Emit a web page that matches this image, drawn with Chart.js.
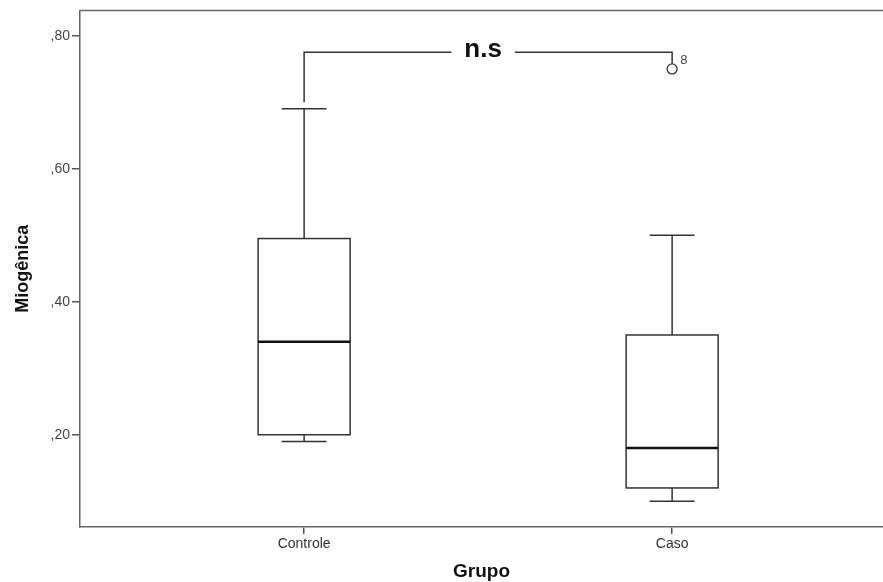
<!DOCTYPE html>
<html>
<head>
<meta charset="utf-8">
<script src="https://cdn.jsdelivr.net/npm/chart.js@4"></script>
<style>
    html, body { margin: 0; padding: 0; background: #fff; }
    #wrap { width: 883px; height: 582px; }
</style>
</head>
<body>
<div id="wrap"><canvas id="boxChart"></canvas></div>
<script>
const categories = ['Controle', 'Caso'];
const whiskerMin = [0.19, 0.10];
const q1 = [0.20, 0.12];
const median = [0.34, 0.18];
const q3 = [0.495, 0.35];
const whiskerMax = [0.69, 0.50];
const outlierGroup = [2];
const outlierValue = [0.75];
const outlierLabel = ['8'];
const yTicks = [0.2, 0.4, 0.6, 0.8];
const bracketText = 'n.s';
const bracketY = 0.775;
const bracketEnds = [0.70, 0.758];

const FONT = "'Liberation Sans', Arial, sans-serif";
const LINE = '#333';

// boxes, whiskers, medians, the top frame line and the n.s bracket
const boxPlot = {
    id: 'boxPlot',
    beforeDatasetsDraw(chart) {
        const ctx = chart.ctx;
        const x = chart.scales.x;
        const y = chart.scales.y;
        const area = chart.chartArea;
        const capHalf = 0.061;
        const boxHalf = 0.125;

        ctx.save();
        ctx.lineCap = 'butt';
        categories.forEach((c, i) => {
            const cx = x.getPixelForValue(i + 1);
            const left = x.getPixelForValue(i + 1 - boxHalf);
            const right = x.getPixelForValue(i + 1 + boxHalf);
            const top = y.getPixelForValue(q3[i]);
            const bottom = y.getPixelForValue(q1[i]);

            ctx.strokeStyle = LINE;
            ctx.lineWidth = 1.5;
            ctx.beginPath();
            ctx.moveTo(cx, y.getPixelForValue(whiskerMax[i]));
            ctx.lineTo(cx, top);
            ctx.moveTo(cx, bottom);
            ctx.lineTo(cx, y.getPixelForValue(whiskerMin[i]));
            [whiskerMax[i], whiskerMin[i]].forEach(v => {
                ctx.moveTo(x.getPixelForValue(i + 1 - capHalf), y.getPixelForValue(v));
                ctx.lineTo(x.getPixelForValue(i + 1 + capHalf), y.getPixelForValue(v));
            });
            ctx.stroke();

            ctx.fillStyle = '#fff';
            ctx.fillRect(left, top, right - left, bottom - top);
            ctx.strokeRect(left, top, right - left, bottom - top);

            ctx.beginPath();
            ctx.lineWidth = 2.5;
            ctx.strokeStyle = '#111';
            ctx.moveTo(left, y.getPixelForValue(median[i]));
            ctx.lineTo(right, y.getPixelForValue(median[i]));
            ctx.stroke();
        });

        // top frame
        ctx.lineWidth = 1.5;
        ctx.strokeStyle = '#666';
        ctx.beginPath();
        ctx.moveTo(area.left, area.top);
        ctx.lineTo(area.right, area.top);
        ctx.stroke();

        // bracket, label sits a little left of the middle
        const lx = x.getPixelForValue(1);
        const rx = x.getPixelForValue(2);
        const by = y.getPixelForValue(bracketY);
        ctx.font = 'bold 26px ' + FONT;
        const mid = (lx + rx) / 2 - 5;
        const tw = ctx.measureText(bracketText).width;
        ctx.strokeStyle = LINE;
        ctx.beginPath();
        ctx.moveTo(lx, y.getPixelForValue(bracketEnds[0]));
        ctx.lineTo(lx, by);
        ctx.lineTo(mid - tw / 2 - 13, by);
        ctx.moveTo(mid + tw / 2 + 13, by);
        ctx.lineTo(rx, by);
        ctx.lineTo(rx, y.getPixelForValue(bracketEnds[1]));
        ctx.stroke();
        ctx.fillStyle = '#111';
        ctx.textAlign = 'center';
        ctx.textBaseline = 'middle';
        ctx.fillText(bracketText, mid, by - 2);

        // outlier case numbers
        ctx.font = '13px ' + FONT;
        ctx.fillStyle = '#444';
        ctx.textAlign = 'left';
        outlierGroup.forEach((g, i) => {
            ctx.fillText(outlierLabel[i], x.getPixelForValue(g) + 8, y.getPixelForValue(outlierValue[i]) - 9);
        });
        ctx.restore();
    }
};

const ctx = document.getElementById('boxChart').getContext('2d');
new Chart(ctx, {
    type: 'scatter',
    data: {
        datasets: [{
            label: 'Outliers',
            data: outlierGroup.map((g, i) => ({ x: g, y: outlierValue[i] })),
            pointStyle: 'circle',
            pointRadius: 5,
            backgroundColor: 'rgba(255,255,255,0)',
            borderColor: LINE,
            borderWidth: 1.3
        }]
    },
    options: {
        responsive: true,
        maintainAspectRatio: false,
        animation: false,
        layout: { autoPadding: false, padding: { top: 10, right: 0, left: 0, bottom: 0 } },
        plugins: {
            legend: { display: false },
            tooltip: { enabled: false }
        },
        scales: {
            x: {
                type: 'linear',
                min: 0.391,
                max: 2.573,
                afterBuildTicks: scale => { scale.ticks = categories.map((c, i) => ({ value: i + 1 })); },
                afterFit: scale => { scale.height = 55; },
                ticks: {
                    callback: v => categories[v - 1],
                    color: '#333',
                    font: { family: FONT, size: 14 },
                    padding: 2,
                    maxRotation: 0
                },
                grid: { drawOnChartArea: false, drawTicks: true, tickLength: 7, color: '#555', lineWidth: 1.5 },
                border: { display: true, color: '#666', width: 1.5 },
                title: {
                    display: true,
                    text: 'Grupo',
                    color: '#111',
                    font: { family: FONT, size: 19, weight: 'bold', lineHeight: 1 },
                    padding: { top: 0, bottom: 0.5 }
                }
            },
            y: {
                min: 0.0613,
                max: 0.838,
                afterBuildTicks: scale => { scale.ticks = yTicks.map(v => ({ value: v })); },
                afterFit: scale => { scale.width = 80; },
                ticks: {
                    callback: v => ',' + v.toFixed(2).split('.')[1],
                    color: '#444',
                    font: { family: FONT, size: 14 },
                    padding: 2
                },
                grid: { drawOnChartArea: false, drawTicks: true, tickLength: 8, color: '#555', lineWidth: 1.5 },
                border: { display: true, color: '#666', width: 1.5 },
                title: {
                    display: true,
                    text: 'Miogênica',
                    color: '#111',
                    font: { family: FONT, size: 18, weight: 'bold', lineHeight: 1.2 },
                    padding: { top: 12, bottom: 0 }
                }
            }
        }
    },
    plugins: [boxPlot]
});
</script>
</body>
</html>
